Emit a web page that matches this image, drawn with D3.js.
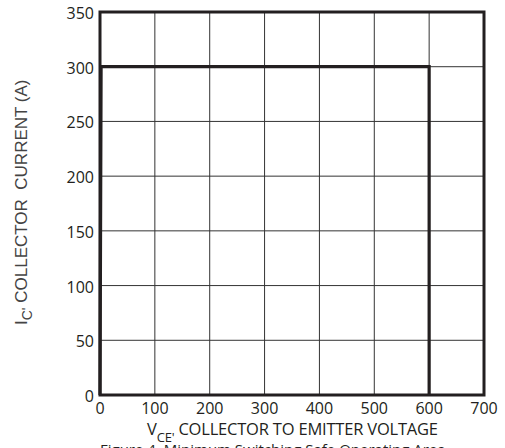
<!DOCTYPE html>
<html><head><meta charset="utf-8">
<script src="https://cdn.jsdelivr.net/npm/d3@7"></script>
<style>body{margin:0;background:#fff}svg{display:block}</style>
</head><body>
<svg id="c" width="505" height="448"></svg>
<script>
const xTicks = [0,100,200,300,400,500,600,700];
const yTicks = [0,50,100,150,200,250,300,350];
const soaV = [0, 2, 600, 600];
const soaI = [0, 300, 300, 0];

const svg = d3.select("#c");
const x = d3.scaleLinear().domain([0,700]).range([100,484]);
const y = d3.scaleLinear().domain([0,350]).range([395,12]);
const font = "'Open Sans', sans-serif";

// grid
svg.append("g").selectAll("line.v").data(xTicks).join("line")
  .attr("x1",d=>x(d)).attr("x2",d=>x(d)).attr("y1",y(0)).attr("y2",y(350))
  .attr("stroke","#333").attr("stroke-width",1);
svg.append("g").selectAll("line.h").data(yTicks).join("line")
  .attr("y1",d=>y(d)).attr("y2",d=>y(d)).attr("x1",x(0)).attr("x2",x(700))
  .attr("stroke","#333").attr("stroke-width",1);

// frame
svg.append("rect").attr("x",x(0)).attr("y",y(350)).attr("width",x(700)-x(0)).attr("height",y(0)-y(350))
  .attr("fill","none").attr("stroke","#231f20").attr("stroke-width",3);

// SOA curve
const line = d3.line().x(d=>x(d[0])).y(d=>y(d[1]));
svg.append("path").datum(soaV.map((v,i)=>[v,soaI[i]]))
  .attr("d",line).attr("fill","none").attr("stroke","#231f20").attr("stroke-width",3.2);

// tick labels
svg.append("g").selectAll("text").data(xTicks).join("text")
  .attr("x",d=>x(d)).attr("y",414).attr("text-anchor","middle")
  .attr("font-family",font).attr("font-size",16).attr("fill","#231f20").text(d=>d);
svg.append("g").selectAll("text").data(yTicks).join("text")
  .attr("x",94).attr("y",d=>y(d)+7).attr("text-anchor","end")
  .attr("font-family",font).attr("font-size",16).attr("fill","#231f20").text(d=>d);

// x title
const xt = svg.append("text").attr("x",147).attr("y",435)
  .attr("font-family",font).attr("font-size",16.5).attr("fill","#231f20")
  .attr("letter-spacing","-0.2");
xt.append("tspan").text("V");
xt.append("tspan").attr("font-size",13).attr("dy",7).text("CE'");
xt.append("tspan").attr("dy",-7).text(" COLLECTOR TO EMITTER VOLTAGE");

// y title
const yt = svg.append("text").attr("transform","translate(27,325) rotate(-90)")
  .attr("font-family","'Liberation Sans', Arial, sans-serif").attr("font-size",17).attr("fill","#444")
  .attr("xml:space","preserve").style("white-space","pre");
yt.append("tspan").text("I");
yt.append("tspan").attr("font-size",14).attr("dy",5).text("C'");
yt.append("tspan").attr("dy",-5).text(" COLLECTOR  CURRENT (A)");

// caption (cut off at bottom edge, as in the reference)
svg.append("text").attr("x",100).attr("y",455)
  .attr("font-family",font).attr("font-size",15).attr("fill","#231f20")
  .text("Figure 4. Minimum Switching Safe Operating Area");
</script>
</body></html>
